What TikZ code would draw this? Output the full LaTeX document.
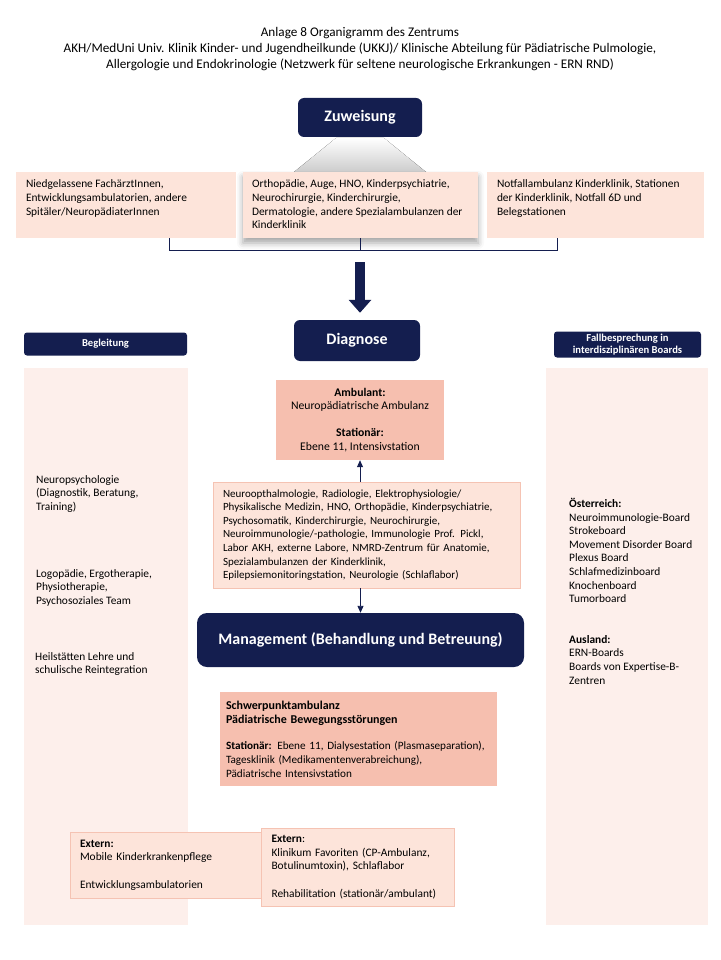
\documentclass[tikz,border=0pt]{standalone}
\usepackage{fontspec}
\setmainfont{Carlito}
\usetikzlibrary{arrows.meta,positioning,shadows.blur}

\definecolor{navy}{HTML}{141E4F}
\definecolor{peach}{HTML}{FDE4DA}
\definecolor{peachline}{HTML}{F5C3B3}
\definecolor{salmon}{HTML}{F6BFAF}
\definecolor{pale}{HTML}{FDEFEB}

\newcommand{\bodyfont}{\fontsize{11.4}{13.6}\selectfont}
\newcommand{\titlefont}{\fontsize{13.2}{16}\selectfont}

\begin{document}
\begin{tikzpicture}[x=1pt,y=-1pt,
  navybox/.style={fill=navy, rounded corners=6pt, text=white, align=center, inner sep=0pt},
  headbox/.style={navybox, font=\fontsize{16}{19}\selectfont\bfseries},
  sidebox/.style={navybox, rounded corners=3pt, font=\fontsize{10.6}{12.5}\selectfont\bfseries},
  peachbox/.style={fill=peach, inner sep=0pt},
  framebox/.style={fill=peach, draw=peachline, line width=.8pt, inner xsep=10pt, align=left, font=\bodyfont},
  salmonbox/.style={fill=salmon, inner xsep=10pt, font=\bodyfont},
  column/.style={fill=pale, inner sep=0pt},
  txt/.style={font=\bodyfont, align=left, inner sep=0pt, anchor=north west},
  link/.style={draw=navy, line width=.9pt},
  arr/.style={link, -{Triangle[width=6pt,length=7pt]}},
  bigarr/.style={draw=navy, line width=10pt, -{Triangle[width=22pt,length=13pt]}}]

\useasboundingbox (0,0) rectangle (720,960);

\node[font=\titlefont, align=center, anchor=north] (title) at (360,24)
  {Anlage 8 Organigramm des Zentrums\\
   AKH/MedUni Univ. Klinik Kinder- und Jugendheilkunde (UKKJ)/ Klinische Abteilung f\"ur P\"adiatrische Pulmologie,\\
   Allergologie und Endokrinologie (Netzwerk f\"ur seltene neurologische Erkrankungen - ERN RND)};

% Zuweisung
\fill[top color=white, bottom color=gray!40]
  (336,138) -- (384,138) -- (426,172) -- (294,172) -- cycle;
\node[headbox, minimum width=124, minimum height=39] (zuw) at (360,117.5) {Zuweisung};

\node[peachbox, minimum width=220, minimum height=66] (zwLeft) at (126,205) {};
\node[peachbox, minimum width=235, minimum height=66,
  blur shadow={shadow xshift=0pt, shadow yshift=-5pt, shadow blur radius=6pt, shadow opacity=35}]
  (zwMid) at (360.5,205) {};
\node[peachbox, minimum width=217, minimum height=66] (zwRight) at (595.5,205) {};

\node[txt] (zwLeftTxt) at ([xshift=10pt,yshift=-8pt]zwLeft.north west)
  {Niedgelassene Fach\"arztInnen,\\Entwicklungsambulatorien, andere\\Spit\"aler/Neurop\"adiaterInnen};
\node[txt] (zwMidTxt) at ([xshift=9pt,yshift=-8pt]zwMid.north west)
  {Orthop\"adie, Auge, HNO, Kinderpsychiatrie,\\Neurochirurgie, Kinderchirurgie,\\Dermatologie, andere Spezialambulanzen der\\Kinderklinik};
\node[txt] (zwRightTxt) at ([xshift=10pt,yshift=-8pt]zwRight.north west)
  {Notfallambulanz Kinderklinik, Stationen\\der Kinderklinik, Notfall 6D und\\Belegstationen};

\coordinate (brk) at (360.5,250);
\coordinate (arrTop) at (360,262);

\draw[link]
  ([xshift=43pt]zwLeft.south) |- ([xshift=-38.5pt]zwRight.south |- brk)
  -- ([xshift=-38.5pt]zwRight.south);
\draw[link] (zwMid.south) -- (brk);

% Diagnose
\node[headbox, minimum width=126, minimum height=41] (dia) at (357,340.5) {Diagnose};
\draw[bigarr] (arrTop) -- ([yshift=7pt]dia.north -| arrTop);

\node[sidebox, minimum width=163, minimum height=23] (beg) at (105.5,344) {Begleitung};
\node[sidebox, minimum width=147, minimum height=26] (fall) at (627.5,344.5)
  {Fallbesprechung in\\interdisziplin\"aren Boards};

\node[column, minimum width=164, minimum height=557, anchor=north west] (begCol) at (24,368) {};
\node[column, minimum width=162, minimum height=557, anchor=north west] (fallCol) at (546,368) {};

\node[txt] (begA) at (36,475) {Neuropsychologie\\(Diagnostik, Beratung,\\Training)};
\node[txt] (begB) at (36,569) {Logop\"adie, Ergotherapie,\\Physiotherapie,\\Psychosoziales Team};
\node[txt] (begC) at (35,652) {Heilst\"atten Lehre und\\schulische Reintegration};

\node[txt] (fallA) at (569,498)
  {\textbf{\"Osterreich:}\\Neuroimmunologie-Board\\Strokeboard\\Movement Disorder Board\\Plexus Board\\Schlafmedizinboard\\Knochenboard\\Tumorboard};
\node[txt] (fallB) at (569,635)
  {\textbf{Ausland:}\\ERN-Boards\\Boards von Expertise-B-\\Zentren};

\node[salmonbox, align=center, minimum width=168, minimum height=80,
  font=\fontsize{11.7}{13.4}\selectfont] (amb) at (360,420)
  {\textbf{Ambulant:}\\Neurop\"adiatrische Ambulanz\\[13.4pt]\textbf{Station\"ar:}\\Ebene 11, Intensivstation};

\node[framebox, text width=287, minimum height=106, font=\fontsize{11}{13.6}\selectfont] (midDiag) at (366.5,535)
  {Neuroopthalmologie, Radiologie, Elektrophysiologie/\\
   Physikalische Medizin, HNO, Orthop\"adie, Kinderpsychiatrie,\\
   Psychosomatik, Kinderchirurgie, Neurochirurgie,\\
   Neuroimmunologie/-pathologie, Immunologie Prof. Pickl,\\
   Labor AKH, externe Labore, NMRD-Zentrum f\"ur Anatomie,\\
   Spezialambulanzen der Kinderklinik,\\
   Epilepsiemonitoringstation, Neurologie (Schlaflabor)};

\draw[arr] (midDiag.north -| amb.south) -- (amb.south);

% Management
\node[navybox, rounded corners=10pt, font=\fontsize{16}{19}\selectfont\bfseries,
  minimum width=327, minimum height=54] (mgmt) at (360.5,640) {Management (Behandlung und Betreuung)};
\draw[arr] (midDiag.south -| mgmt.north) -- (mgmt.north);

\node[salmonbox, align=left, text width=265, inner xsep=6pt, minimum height=94,
  font=\fontsize{11.2}{14}\selectfont] (schwer) at (358.5,739)
  {{\fontsize{12}{15}\selectfont\bfseries Schwerpunktambulanz\\
   P\"adiatrische Bewegungsst\"orungen}\\[12pt]
   \textbf{Station\"ar:} Ebene 11, Dialysestation (Plasmaseparation),\\
   Tagesklinik (Medikamentenverabreichung),\\
   P\"adiatrische Intensivstation};

% Extern
\node[framebox, text width=172, minimum height=66] (extLeft) at (166,865)
  {\textbf{Extern:}\\Mobile Kinderkrankenpflege\\[13.6pt]Entwicklungsambulatorien};
\node[framebox, text width=173, minimum height=78] (extRight) at (358,867)
  {\textbf{Extern}:\\Klinikum Favoriten (CP-Ambulanz,\\Botulinumtoxin), Schlaflabor\\[13.6pt]Rehabilitation (station\"ar/ambulant)};

\end{tikzpicture}
\end{document}
